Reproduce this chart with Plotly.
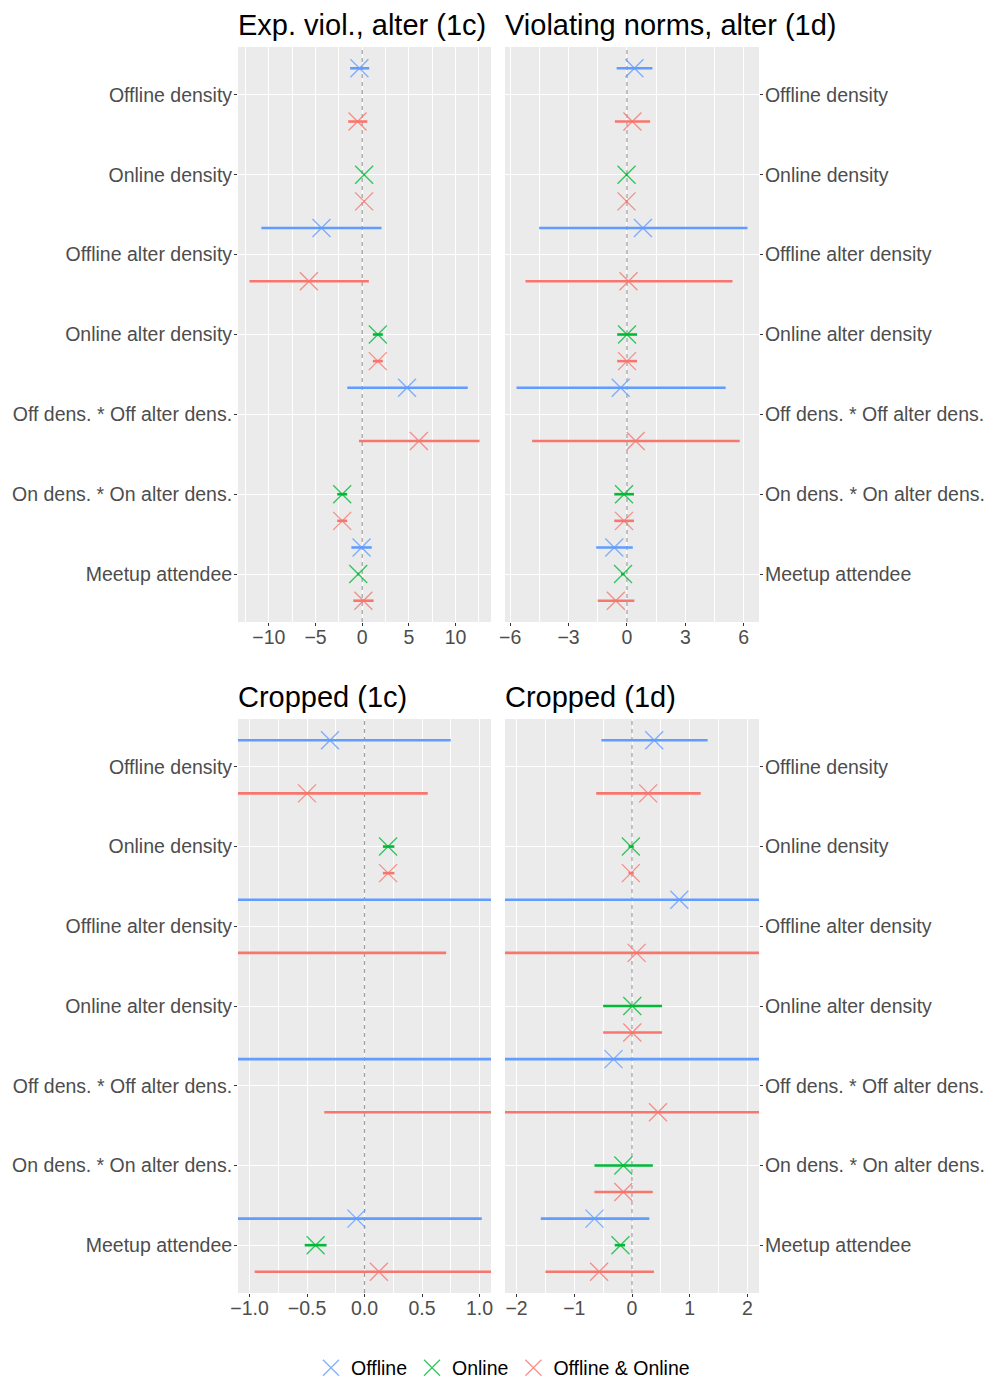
import plotly.graph_objects as go

# Predictors, top to bottom
categories = ["Offline density", "Online density", "Offline alter density",
              "Online alter density", "Off dens. * Off alter dens.",
              "On dens. * On alter dens.", "Meetup attendee"]
series = ["Offline", "Online", "Offline & Online"]
colors = ["#619CFF", "#00BA38", "#F8766D"]

# Model 1c: expected violation, alter (estimate, lower, upper)
c_off_est = [-0.30, None, -4.36, None, 4.80, None, -0.07]
c_off_lo = [-1.30, None, -10.80, None, -1.60, None, -1.16]
c_off_hi = [0.75, None, 2.07, None, 11.30, None, 1.02]
c_on_est = [None, 0.205, None, 1.67, None, -2.14, -0.425]
c_on_lo = [None, 0.16, None, 1.14, None, -2.68, -0.52]
c_on_hi = [None, 0.26, None, 2.21, None, -1.61, -0.33]
c_both_est = [-0.50, 0.205, -5.71, 1.67, 6.07, -2.14, 0.125]
c_both_lo = [-1.50, 0.16, -12.07, 1.14, -0.35, -2.68, -0.955]
c_both_hi = [0.55, 0.26, 0.71, 2.21, 12.56, -1.61, 1.22]

# Model 1d: violating norms, alter (estimate, lower, upper)
d_off_est = [0.385, None, 0.82, None, -0.32, None, -0.65]
d_off_lo = [-0.53, None, -4.51, None, -5.67, None, -1.58]
d_off_hi = [1.31, None, 6.19, None, 5.07, None, 0.30]
d_on_est = [None, -0.02, None, 0.005, None, -0.15, -0.20]
d_on_lo = [None, -0.06, None, -0.50, None, -0.65, -0.30]
d_on_hi = [None, 0.03, None, 0.52, None, 0.36, -0.12]
d_both_est = [0.28, -0.02, 0.08, 0.005, 0.45, -0.15, -0.57]
d_both_lo = [-0.62, -0.06, -5.21, -0.50, -4.87, -0.65, -1.50]
d_both_hi = [1.19, 0.03, 5.42, 0.52, 5.79, 0.36, 0.38]

model_1c = [(c_off_est, c_off_lo, c_off_hi), (c_on_est, c_on_lo, c_on_hi),
            (c_both_est, c_both_lo, c_both_hi)]
model_1d = [(d_off_est, d_off_lo, d_off_hi), (d_on_est, d_on_lo, d_on_hi),
            (d_both_est, d_both_lo, d_both_hi)]

panel_titles = ["Exp. viol., alter (1c)", "Violating norms, alter (1d)",
                "Cropped (1c)", "Cropped (1d)"]

FONT = "Liberation Sans, Arial, Helvetica, sans-serif"
W, H = 988, 1381
dodge = [1 / 3, 0.0, -1 / 3]
n_cat = len(categories)
cat_pos = [n_cat - i for i in range(n_cat)]
y_range = [0.4, n_cat + 0.6]


def full_range(model):
    lo = min(v for s in model for v in s[1] if v is not None)
    hi = max(v for s in model for v in s[2] if v is not None)
    pad = 0.05 * (hi - lo)
    return [lo - pad, hi + pad]


# panel: (model, x range, dtick, minor dtick, tick format, column, row)
panels = [
    (model_1c, full_range(model_1c), 5, 2.5, "", 0, 0),
    (model_1d, full_range(model_1d), 3, 1.5, "", 1, 0),
    (model_1c, [-1.1, 1.1], 0.5, 0.25, ".1f", 0, 1),
    (model_1d, [-2.2, 2.2], 1, 0.5, "", 1, 1),
]

x_dom = [[238 / W, 491 / W], [505 / W, 759 / W]]
y_dom = [[1 - 622 / H, 1 - 47 / H], [1 - 1293 / H, 1 - 719 / H]]

fig = go.Figure()
layout = {}
annotations = []

for p, (model, xr, dt, mdt, fmt, col, row) in enumerate(panels):
    k = "" if p == 0 else str(p + 1)
    xa, ya = "x" + k, "y" + k
    # dashed reference line at zero
    fig.add_trace(go.Scatter(
        x=[0, 0], y=y_range, mode="lines", showlegend=False,
        hoverinfo="skip", xaxis=xa, yaxis=ya,
        line=dict(color="#9E9E9E", width=1.2, dash="4px,4px"),
    ))
    for s, (est, lo, hi) in enumerate(model):
        ys = [cat_pos[i] + dodge[s] for i in range(n_cat)]
        plus = [None if e is None else h - e for e, h in zip(est, hi)]
        minus = [None if e is None else e - l for e, l in zip(est, lo)]
        fig.add_trace(go.Scatter(
            x=est, y=ys, mode="markers", name=series[s],
            legendgroup=series[s], showlegend=(p == 0),
            xaxis=xa, yaxis=ya,
            marker=dict(symbol="x-thin-open", size=18, color=colors[s],
                        opacity=0.8, line=dict(width=1.3, color=colors[s])),
            error_x=dict(type="data", symmetric=False, array=plus,
                         arrayminus=minus, width=0, thickness=2.6,
                         color=colors[s]),
        ))
    layout["xaxis" + k] = dict(
        domain=x_dom[col], anchor=ya, range=xr, dtick=dt, tick0=0,
        tickformat=fmt, showgrid=True, gridcolor="white", gridwidth=1.2,
        zeroline=False, ticks="outside", ticklen=3, tickcolor="#333333",
        ticklabelstandoff=-5,
        tickfont=dict(family=FONT, size=19.5, color="#4D4D4D"),
        minor=dict(dtick=mdt, tick0=0, showgrid=True, gridcolor="white",
                   gridwidth=0.6),
        showline=False, fixedrange=True, automargin=False,
    )
    layout["yaxis" + k] = dict(
        domain=y_dom[row], anchor=xa, range=y_range,
        tickvals=cat_pos, ticktext=categories,
        side="left" if col == 0 else "right",
        showgrid=True, gridcolor="white", gridwidth=1.2, zeroline=False,
        ticks="outside", ticklen=3, tickcolor="#333333",
        ticklabelstandoff=-2,
        tickfont=dict(family=FONT, size=19.5, color="#4D4D4D"),
        showline=False, fixedrange=True, automargin=False,
    )
    annotations.append(dict(text=panel_titles[p], xref="paper", yref="paper",
                            x=x_dom[col][0], y=y_dom[row][1] + 4 / H,
                            xanchor="left", yanchor="bottom", showarrow=False,
                            xshift=-2,
                            font=dict(family=FONT, size=29, color="black")))

fig.update_layout(
    width=W, height=H,
    margin=dict(l=0, r=0, t=0, b=0, autoexpand=False),
    paper_bgcolor="white", plot_bgcolor="#EBEBEB",
    annotations=annotations,
    legend=dict(orientation="h", x=503 / W, xanchor="center",
                y=1 - 1368 / H, yanchor="middle",
                font=dict(family=FONT, size=19.5, color="black")),
    **layout,
)

fig.write_html("out.html")
